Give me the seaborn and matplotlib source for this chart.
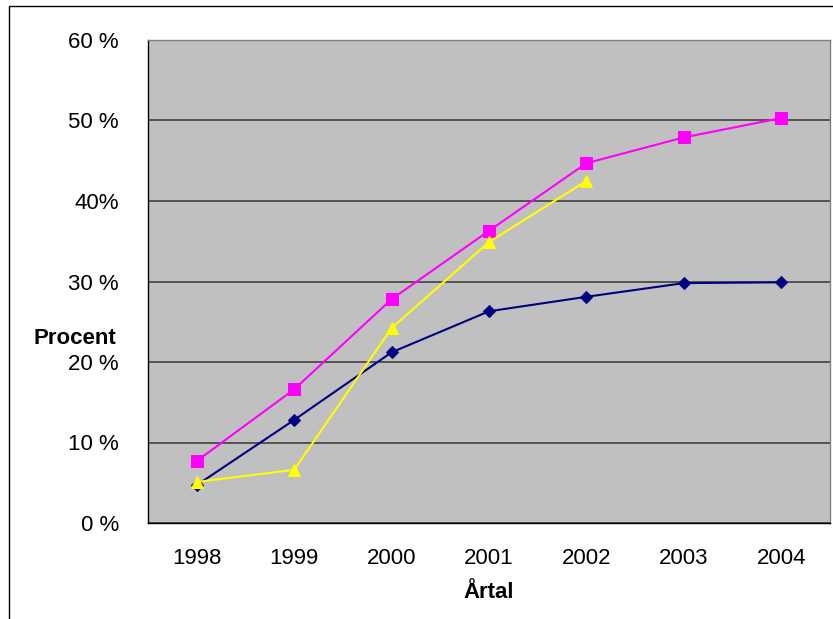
import matplotlib
matplotlib.use("Agg")
import matplotlib.pyplot as plt
import numpy as np
import pandas as pd
import seaborn as sns
from matplotlib.patches import Rectangle

# Data
years = ["1998", "1999", "2000", "2001", "2002", "2003", "2004"]
navy_vals = [4.7, 12.8, 21.2, 26.3, 28.1, 29.8, 29.9]
pink_vals = [7.7, 16.6, 27.8, 36.3, 44.7, 47.9, 50.3]
yellow_vals = [5.1, 6.6, 24.2, 34.9, 42.5]
y_ticks = [0, 10, 20, 30, 40, 50, 60]
y_labels = ["0 %", "10 %", "20 %", "30 %", "40%", "50 %", "60 %"]

sns.set_style("white")
plt.rcParams["font.family"] = ["Liberation Sans", "DejaVu Sans"]
plt.rcParams["text.color"] = "black"
plt.rcParams["xtick.color"] = "black"
plt.rcParams["ytick.color"] = "black"

fig = plt.figure(figsize=(8.33, 6.19), dpi=100)
ax = fig.add_axes([148 / 833, 96 / 619, 682 / 833, 483 / 619])
ax.set_facecolor("#C0C0C0")

series = [
    (navy_vals, "#000080", "D", 6.5),
    (pink_vals, "#FF00FF", "s", 8),
    (yellow_vals, "#FFFF00", "^", 8.5),
]
for vals, col, mk, ms in series:
    df = pd.DataFrame({"x": np.arange(len(vals)), "y": vals})
    sns.lineplot(data=df, x="x", y="y", ax=ax, color=col, marker=mk,
                 markersize=ms, markeredgecolor=col, linewidth=1.5, zorder=3)

ax.set_xlim(-0.5, len(years) - 0.5)
ax.set_ylim(0, 60)
ax.set_yticks(y_ticks)
ax.set_yticklabels(y_labels, fontsize=16)
ax.set_xticks(np.arange(len(years)))
ax.set_xticklabels(years, fontsize=16)
ax.set_xticks(np.arange(len(years) + 1) - 0.5, minor=True)
ax.tick_params(axis="x", which="major", length=0, pad=18)
ax.tick_params(axis="x", which="minor", length=5, width=1, direction="out")
ax.tick_params(axis="y", length=5, width=1, direction="out", pad=16)
ax.yaxis.grid(True, color="#404040", linewidth=1.2)
ax.set_axisbelow(True)
ax.set_xlabel("")
ax.set_ylabel("")

for side in ["left", "bottom"]:
    ax.spines[side].set_color("black")
    ax.spines[side].set_linewidth(1)
for side in ["top", "right"]:
    ax.spines[side].set_color("#808080")
    ax.spines[side].set_linewidth(1)

fig.text(75 / 833, 1 - 338 / 619, "Procent", fontsize=16, fontweight="bold",
         ha="center", va="center")
fig.text(489 / 833, 1 - 592 / 619, "Årtal", fontsize=16, fontweight="bold",
         ha="center", va="center")

# outer chart border
fig.patches.append(Rectangle((9 / 833, -0.01), 1.0, 1 - 6 / 619 + 0.01,
                             transform=fig.transFigure, fill=False,
                             edgecolor="black", linewidth=1))

fig.savefig("out.png", dpi=100)
